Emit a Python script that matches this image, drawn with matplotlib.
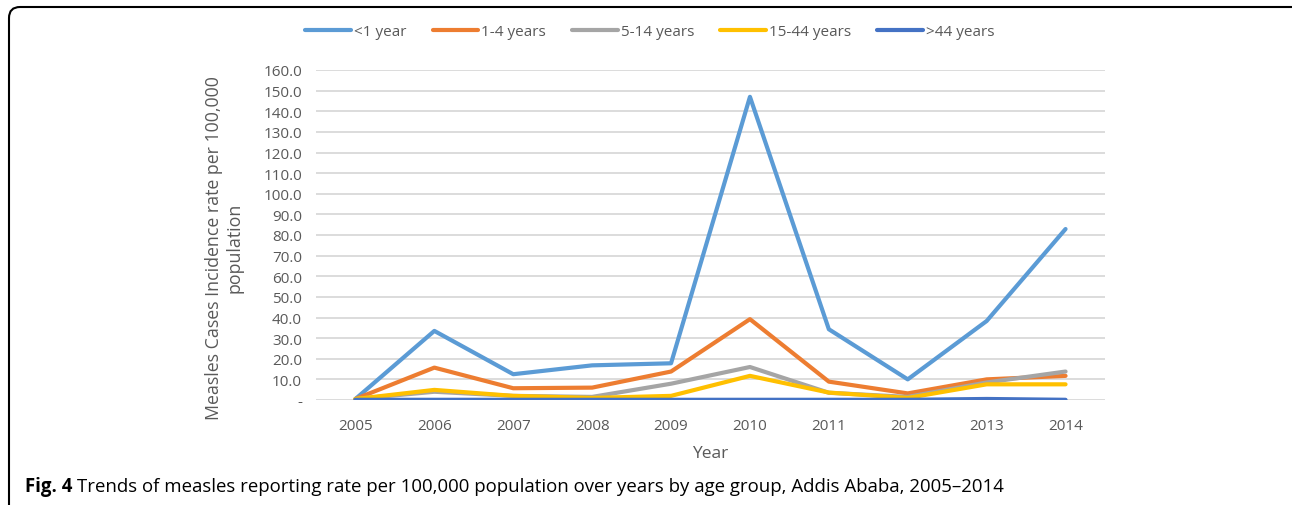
import matplotlib.pyplot as plt
from matplotlib.patches import FancyBboxPatch
from matplotlib.transforms import IdentityTransform

plt.rcParams['font.family'] = ['Open Sans', 'DejaVu Sans']

years = ['2005', '2006', '2007', '2008', '2009', '2010', '2011', '2012', '2013', '2014']
under1 = [0.5, 33.5, 12.5, 16.8, 17.8, 147.0, 34.3, 10.0, 38.3, 82.9]
age1_4 = [0.5, 15.7, 5.7, 6.0, 13.8, 39.2, 8.9, 3.2, 10.0, 11.7]
age5_14 = [0.5, 4.0, 2.0, 1.5, 7.9, 16.0, 3.5, 1.5, 8.5, 13.8]
age15_44 = [0.5, 4.9, 2.0, 1.0, 2.0, 11.7, 3.6, 1.0, 7.6, 7.6]
over44 = [0.1, 0.1, 0.1, 0.1, 0.1, 0.1, 0.1, 0.1, 0.5, 0.1]

series = [
    ('<1 year', under1, '#5B9BD5'),
    ('1-4 years', age1_4, '#ED7D31'),
    ('5-14 years', age5_14, '#A5A5A5'),
    ('15-44 years', age15_44, '#FFC000'),
    ('>44 years', over44, '#4472C4'),
]

W, H = 1292, 506
fig = plt.figure(figsize=(W / 100, H / 100), dpi=100)
ax = fig.add_axes([316 / W, 1 - 401 / H, (1105 - 316) / W, (401 - 71) / H])

x = range(len(years))
for name, vals, col in series:
    ax.plot(x, vals, color=col, lw=3, label=name, solid_capstyle='round', zorder=3)

ax.set_xlim(-0.5, len(years) - 0.5)
ax.set_ylim(0, 160)
ax.set_yticks(range(0, 161, 10))
ax.set_yticklabels(['-'] + ['%.1f' % v for v in range(10, 161, 10)])
ax.set_xticks(list(x))
ax.set_xticklabels(years)
ax.tick_params(colors='#595959', labelsize=11, length=0, pad=10)
ax.tick_params(axis='x', pad=13)
ax.grid(axis='y', color='#D9D9D9', lw=1.3)
ax.set_axisbelow(True)
for s in ax.spines.values():
    s.set_visible(False)

ax.set_ylabel('Measles Cases Incidence rate per 100,000\npopulation',
              fontsize=12.8, color='#595959', linespacing=1.15)
ax.yaxis.set_label_coords((224 - 316) / 789, (401 - 248) / 330)
ax.yaxis.label.set_va('center')
ax.set_xlabel('Year', fontsize=12.5, color='#595959')
ax.xaxis.set_label_coords(0.5, (401 - 454) / 330)
ax.xaxis.label.set_va('center')

fig.legend(loc='center', bbox_to_anchor=(650 / W, 1 - 33 / H), ncol=5,
           frameon=False, fontsize=11, labelcolor='#595959',
           handlelength=3.0, handletextpad=0.2, columnspacing=1.7)

# caption: bold label followed by regular text
cap_y = 1 - 487 / H
cap_bold = fig.text(25 / W, cap_y, 'Fig. 4', fontsize=13.4, fontweight='bold',
                    va='center', ha='left')
fig.canvas.draw()
bb = cap_bold.get_window_extent()
fig.text((bb.x1 + 5) / W, cap_y,
         'Trends of measles reporting rate per 100,000 population over years by age group, Addis Ababa, 2005\u20132014',
         fontsize=13.4, va='center', ha='left')

# rounded frame, clipped at the right and bottom edges
frame = FancyBboxPatch((9, -12), W + 20, H - 8 + 12,
                       boxstyle='round,pad=0,rounding_size=11',
                       transform=IdentityTransform(), fill=False, ec='black', lw=1.5)
fig.patches.append(frame)

fig.savefig('out.png', dpi=100)
